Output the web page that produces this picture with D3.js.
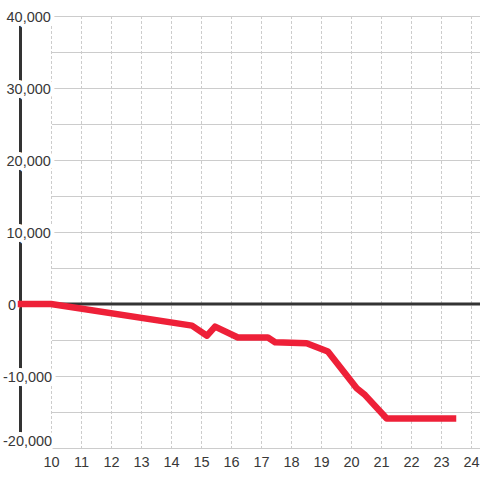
<!DOCTYPE html>
<html>
<head>
<meta charset="utf-8">
<script src="https://cdn.jsdelivr.net/npm/d3@7"></script>
<style>
  body { margin: 0; background: #fff; }
  text { font-family: "Liberation Sans", Arial, sans-serif; font-size: 14.5px; fill: #383838; }
</style>
</head>
<body>
<div id="chart"></div>
<script>
// data
const hours = [9, 10, 14.7, 15.2, 15.47, 16.23, 17.23, 17.47, 18.52, 19.23, 20.19, 20.47, 21.19, 23.4];
const values = [0, 0, -3000, -4400, -3150, -4650, -4650, -5300, -5450, -6600, -11700, -12650, -15900, -15900];
const xTicks = [10, 11, 12, 13, 14, 15, 16, 17, 18, 19, 20, 21, 22, 23, 24];
const yTicks = [40000, 30000, 20000, 10000, 0, -10000, -20000];
const yGrid = d3.range(-20000, 40001, 5000);

const width = 480;
const height = 480;

const x = d3.scaleLinear().domain([9, 24]).range([21, 471]);
const y = d3.scaleLinear().domain([-20000, 40000]).range([448, 16]);

const svg = d3.select("#chart")
	.append("svg")
		.attr("width", width)
		.attr("height", height);

// grid
svg.append("g")
	.selectAll("line")
	.data(yGrid).enter()
	.append("line")
		.attr("x1", 52).attr("x2", width)
		.attr("y1", (d) => y(d) + 0.5).attr("y2", (d) => y(d) + 0.5)
		.attr("stroke", "#ccc");

svg.append("g")
	.selectAll("line")
	.data(xTicks).enter()
	.append("line")
		.attr("x1", (d) => x(d) + 0.5).attr("x2", (d) => x(d) + 0.5)
		.attr("y1", y(40000)).attr("y2", y(-20000))
		.attr("stroke", "#ccc")
		.attr("stroke-dasharray", "3,2");

// left axis bar
svg.append("line")
	.attr("x1", 20.5).attr("x2", 20.5)
	.attr("y1", y(40000)).attr("y2", y(-20000))
	.attr("stroke", "#333")
	.attr("stroke-width", 3);

// y labels with white halo
const fmt = d3.format(",");
svg.append("g")
	.selectAll("text")
	.data(yTicks).enter()
	.append("text")
		.text((d) => d < 0 ? "-" + fmt(-d) : fmt(d))
		.attr("x", (d) => d < 0 ? 3 : (d === 0 ? 8 : 6.5))
		.attr("y", (d) => d === -20000 ? y(d) - 2 : y(d) + 5.5)
		.attr("stroke", "#fff")
		.attr("stroke-width", 8)
		.attr("stroke-linejoin", "round")
		.attr("paint-order", "stroke");

// x labels
svg.append("g")
	.selectAll("text")
	.data(xTicks).enter()
	.append("text")
		.text((d) => d)
		.attr("x", (d) => x(d) + 0.5)
		.attr("y", 467)
		.attr("text-anchor", "middle");

// zero line
svg.append("line")
	.attr("x1", 20).attr("x2", width)
	.attr("y1", y(0)).attr("y2", y(0))
	.attr("stroke", "#333")
	.attr("stroke-width", 3);

// series
const line = d3.line()
	.x((d, i) => x(hours[i]))
	.y((d) => y(d));

svg.append("path")
	.datum(values)
	.attr("d", line)
	.attr("fill", "none")
	.attr("stroke", "#ee2038")
	.attr("stroke-width", 6.5)
	.attr("stroke-linecap", "square")
	.attr("stroke-linejoin", "round");
</script>
</body>
</html>
